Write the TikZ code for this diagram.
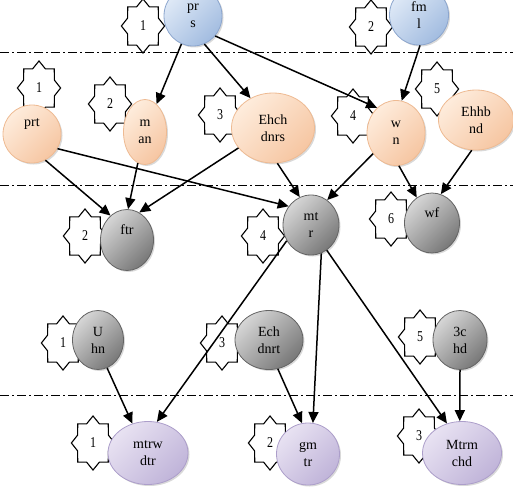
\documentclass[tikz,border=0pt]{standalone}
\usepackage{fontspec}
\setmainfont{Liberation Serif}
\usetikzlibrary{positioning,arrows.meta,shapes.geometric,shadows}
\definecolor{skyA}{RGB}{224,234,247}
\definecolor{skyB}{RGB}{162,188,224}
\definecolor{skyC}{RGB}{140,166,206}
\definecolor{peachA}{RGB}{254,236,220}
\definecolor{peachB}{RGB}{246,198,162}
\definecolor{peachC}{RGB}{238,186,146}
\definecolor{ashA}{RGB}{214,214,214}
\definecolor{ashB}{RGB}{120,120,120}
\definecolor{ashC}{RGB}{100,100,100}
\definecolor{lilacA}{RGB}{232,226,242}
\definecolor{lilacB}{RGB}{192,180,217}
\definecolor{lilacC}{RGB}{172,158,202}

\begin{document}
\begin{tikzpicture}[x=1pt, y=-1pt,
  ent/.style={ellipse, draw=#1C, line width=0.8pt, top color=#1A, bottom color=#1B,
              shading angle=45, inner sep=0pt, align=center,
              font=\fontsize{14}{17}\selectfont,
              drop shadow={opacity=0.3, shadow xshift=1.5pt, shadow yshift=-1.5pt}},
  badge/.style={star, star points=8, star point ratio=1.3, draw, fill=white,
                line width=1.1pt, minimum size=54pt, inner sep=0pt,
                xscale=0.8, transform shape,
                font=\fontsize{15}{15}\selectfont},
  ar/.style={line width=1.5pt, -{Triangle[length=11pt, width=10pt]}},
  sep/.style={line width=1pt, dash pattern=on 9pt off 3pt on 2pt off 3pt},
]
\clip (0,0) rectangle (513,487);

% level separators
\draw[sep] (0,52)  -- (513,52);
\draw[sep] (0,185) -- (513,185);
\draw[sep] (0,395) -- (513,395);

% rank badges
\node[badge] (b-prs)  at (143,26)  {1};
\node[badge] (b-fml)  at (371,27)  {2};
\node[badge] (b-prt)  at (39,88)   {1};
\node[badge] (b-man)  at (110,104) {2};
\node[badge] (b-ehch) at (220,115) {3};
\node[badge] (b-wn)   at (353,116) {4};
\node[badge] (b-ehhb) at (437,89)  {5};
\node[badge] (b-ftr)  at (85,236)  {2};
\node[badge] (b-mtr)  at (263,236) {4};
\node[badge] (b-wf)   at (391,219) {6};
\node[badge] (b-uhn)  at (63,343)  {1};
\node[badge] (b-ech)  at (222,343) {3};
\node[badge] (b-chd)  at (420,337) {5};
\node[badge] (b-mtrw) at (93,443)  {1};
\node[badge] (b-gmtr) at (270,443) {2};
\node[badge] (b-mtrm) at (419,436) {3};

% top row
\node[ent=sky, minimum width=58, minimum height=60] (prs) at (193,16) {pr\\s};
\node[ent=sky, minimum width=59, minimum height=60] (fml) at (419,15) {fm\\l};

% second row
\node[ent=peach, minimum width=58, minimum height=58] (prt)  at (32,134)  {prt\\[6pt]};
\node[ent=peach, minimum width=43, minimum height=65] (man)  at (145,132) {m\\an};
\node[ent=peach, minimum width=83, minimum height=70] (ehch) at (273,128) {Ehch\\dnrs};
\node[ent=peach, minimum width=58, minimum height=65] (wn)   at (396,133) {w\\n};
\node[ent=peach, minimum width=75, minimum height=60] (ehhb) at (476,120) {Ehhb\\nd};

% third row
\node[ent=ash, minimum width=53, minimum height=61] (ftr) at (127,240) {ftr\\[4pt]};
\node[ent=ash, minimum width=56, minimum height=60] (mtr) at (311,225) {mt\\r};
\node[ent=ash, minimum width=55, minimum height=60] (wf)  at (432,223) {wf\\[4pt]};

% fourth row
\node[ent=ash, minimum width=51, minimum height=59] (uhn) at (98,340)  {U\\hn};
\node[ent=ash, minimum width=68, minimum height=59] (ech) at (269,340) {Ech\\dnrt};
\node[ent=ash, minimum width=54, minimum height=59] (chd) at (460,340) {3c\\hd};

% bottom row
\node[ent=lilac, minimum width=80, minimum height=63] (mtrw) at (148,453) {mtrw\\dtr};
\node[ent=lilac, minimum width=63, minimum height=62] (gmtr) at (308,454) {gm\\tr};
\node[ent=lilac, minimum width=79, minimum height=63] (mtrm) at (462,453) {Mtrm\\chd};

% links
\draw[ar] (prs)      -- (man);
\draw[ar] (prs.292)  -- (ehch.127);
\draw[ar] (prs.318)  -- (wn.127);
\draw[ar] (fml.272)  -- (wn.80);
\draw[ar] (prt.297)  -- (ftr.124);
\draw[ar] (prt.330)  -- (mtr.140);
\draw[ar] (man.257)  -- (ftr.88);
\draw[ar] (ehch.210) -- (ftr.66);
\draw[ar] (ehch.277) -- (mtr.112);
\draw[ar] (wn.222)   -- (mtr.57);
\draw[ar] (wn.275)   -- (wf.121);
\draw[ar] (ehhb.262) -- (wf.73);
\draw[ar] (mtr.213)  -- (mtrw.74);
\draw[ar] (mtr.290)  -- (gmtr.81);
\draw[ar] (mtr.302)  -- (mtrm.117);
\draw[ar] (uhn.288)  -- (mtrw.118);
\draw[ar] (ech.287)  -- (gmtr.101);
\draw[ar] (chd.270)  -- (mtrm.94);
\end{tikzpicture}
\end{document}
